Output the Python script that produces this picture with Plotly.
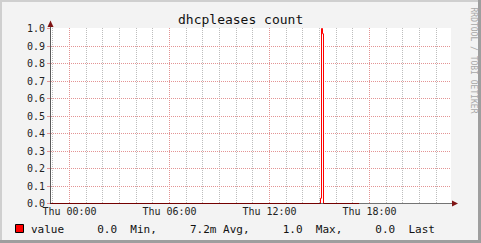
import plotly.graph_objects as go

# ---- data ----
times = ["2024-01-03 22:53:24", "2024-01-04 15:03:36", "2024-01-04 15:07:12",
         "2024-01-04 15:10:48", "2024-01-04 15:14:24", "2024-01-04 17:22:24"]
values = [0.0, 0.03, 1.0, 0.97, 0.0, 0.0]
x_range = ["2024-01-03 22:53:24", "2024-01-04 22:53:24"]
tick_vals = ["2024-01-04 00:00", "2024-01-04 06:00", "2024-01-04 12:00", "2024-01-04 18:00"]
tick_text = ["Thu 00:00", "Thu 06:00", "Thu 12:00", "Thu 18:00"]
series_name = "value"
stat_values = ["0.0", "7.2m", "1.0", "0.0"]
stat_labels = ["Min,", "Avg,", "Max,", "Last"]
title_text = "dhcpleases count"
credit_text = "RRDTOOL / TOBI OETIKER"

# ---- geometry helpers (pixel -> paper) ----
W, H = 481, 243
L, R, T, B = 51, 451, 28, 204
PW, PH = R - L, B - T
def px(x):
    return (x - L) / PW
def py(y):
    return (B - y) / PH

MONO = "DejaVu Sans Mono"
MGRID = "#E39494"
GRID = "#BDBDBD"
AXIS = "rgba(0,0,0,0.55)"
ARROW = "#7F1414"

fig = go.Figure()
fig.add_trace(go.Scatter(x=times, y=values, mode="lines", line=dict(color="#FF0000", width=1, shape="hv"),
                         name=series_name, showlegend=False, hoverinfo="skip"))

half = 0.5 / 175
fig.update_layout(
    width=W, height=H,
    margin=dict(l=L, r=W - R, t=T, b=H - B, pad=0),
    paper_bgcolor="#F3F3F3", plot_bgcolor="#FFFFFF",
    showlegend=False,
    font=dict(family=MONO, size=10, color="#222222"),
)
fig.update_xaxes(
    type="date", range=x_range, tickvals=tick_vals, ticktext=tick_text,
    showgrid=True, gridcolor=MGRID, griddash="1px,1px", gridwidth=1,
    minor=dict(dtick=3600000, tick0="2024-01-04 00:00", showgrid=True, gridcolor=GRID,
               griddash="1px,1px", gridwidth=1),
    showline=False, zeroline=False,
    ticks="", tickfont=dict(family=MONO, size=10, color="#222222"),
    fixedrange=True,
)
fig.update_yaxes(
    range=[-half, 1 + half], tickvals=[i / 10 for i in range(11)],
    ticktext=[f"{i / 10:.1f}" for i in range(11)],
    showgrid=True, gridcolor=MGRID, griddash="1px,1px", gridwidth=1,
    showline=True, linecolor="#5A5A5A", linewidth=1, zeroline=False,
    ticks="outside", ticklen=3, tickcolor=MGRID,
    tickfont=dict(family=MONO, size=10, color="#222222"),
    fixedrange=True,
)

shapes = []
# frame borders
shapes.append(dict(type="rect", xref="paper", yref="paper", x0=px(0), x1=px(2), y0=py(243), y1=py(0),
                   fillcolor="#CFCFCF", line=dict(width=0), layer="above"))
shapes.append(dict(type="rect", xref="paper", yref="paper", x0=px(0), x1=px(481), y0=py(2), y1=py(0),
                   fillcolor="#CFCFCF", line=dict(width=0), layer="above"))
shapes.append(dict(type="rect", xref="paper", yref="paper", x0=px(478), x1=px(481), y0=py(243), y1=py(0),
                   fillcolor="#9E9E9E", line=dict(width=0), layer="above"))
shapes.append(dict(type="rect", xref="paper", yref="paper", x0=px(0), x1=px(481), y0=py(243), y1=py(240),
                   fillcolor="#9E9E9E", line=dict(width=0), layer="above"))
# x axis line (drawn above data)
shapes.append(dict(type="line", xref="paper", yref="paper", x0=px(50), x1=px(455), y0=py(203.5), y1=py(203.5),
                   line=dict(color=AXIS, width=1), layer="above"))
# y axis extension
shapes.append(dict(type="line", xref="paper", yref="paper", x0=px(50.5), x1=px(50.5), y0=py(28), y1=py(24),
                   line=dict(color="#5A5A5A", width=1)))
# arrows
shapes.append(dict(type="path", xref="paper", yref="paper",
                   path=f"M {px(452)} {py(200.5)} L {px(458)} {py(203.5)} L {px(452)} {py(206.5)} Z",
                   fillcolor=ARROW, line=dict(width=0)))
shapes.append(dict(type="path", xref="paper", yref="paper",
                   path=f"M {px(47.5)} {py(27)} L {px(50.5)} {py(20.5)} L {px(53.5)} {py(27)} Z",
                   fillcolor=ARROW, line=dict(width=0)))
# legend swatch
shapes.append(dict(type="rect", xref="paper", yref="paper", x0=px(15.5), x1=px(23.5), y0=py(232.5), y1=py(224.5),
                   fillcolor="#FF0000", line=dict(color="#000000", width=1)))
fig.update_layout(shapes=shapes)

NB = "\u00a0"
legend_str = (series_name + NB * 5 + stat_values[0] + NB * 2 + stat_labels[0] + NB * 5 +
              stat_values[1] + NB + stat_labels[1] + NB * 5 + stat_values[2] + NB * 2 +
              stat_labels[2] + NB * 5 + stat_values[3] + NB * 2 + stat_labels[3])

annotations = [
    dict(text=title_text, xref="paper", yref="paper", x=px(240), y=py(19), xanchor="center", yanchor="middle",
         showarrow=False, font=dict(family=MONO, size=13, color="#111111")),
    dict(text=legend_str, xref="paper", yref="paper", x=px(29), y=py(229), xanchor="left", yanchor="middle",
         showarrow=False, font=dict(family=MONO, size=11, color="#111111")),
    dict(text=credit_text, xref="paper", yref="paper", x=px(472.5), y=py(60), xanchor="center", yanchor="middle",
         textangle=90, showarrow=False, font=dict(family=MONO, size=8, color="#A8A8A8")),
]
fig.update_layout(annotations=annotations)

fig.write_html("out.html")
